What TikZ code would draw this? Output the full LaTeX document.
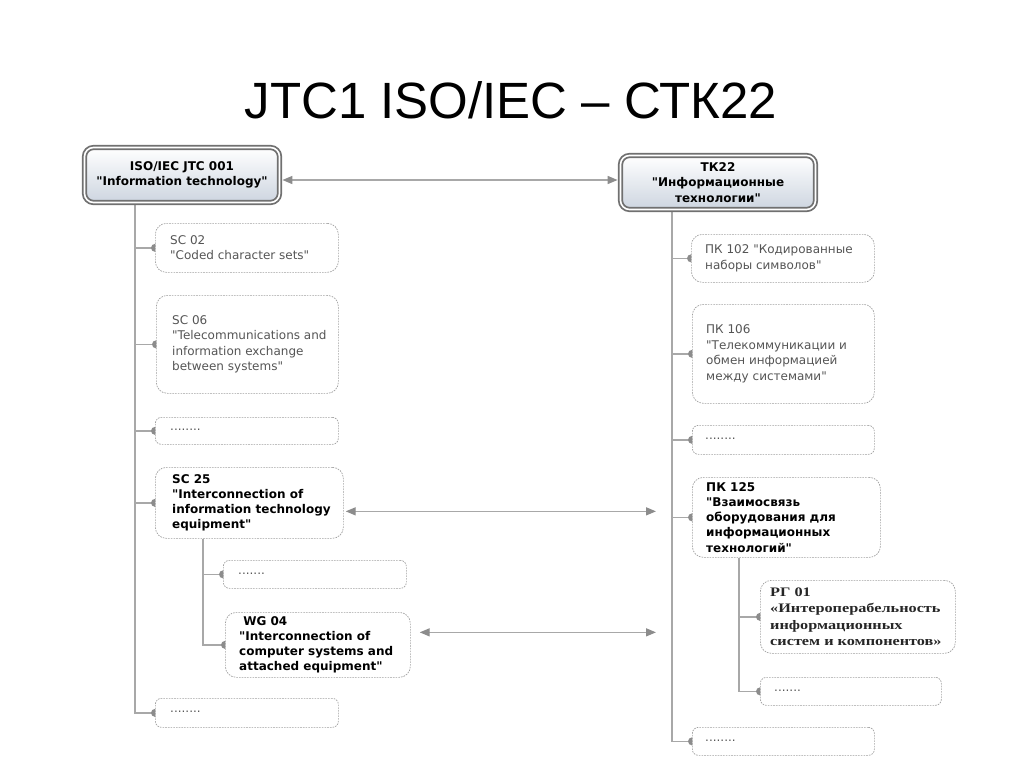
\documentclass[tikz,border=0pt]{standalone}
\usepackage{fontspec}
\usetikzlibrary{arrows.meta,backgrounds}
\newfontfamily\titlefont{Liberation Sans}
\newfontfamily\boxfont{DejaVu Sans}
\newfontfamily\rgfont[FakeStretch=1.25]{Liberation Serif}
\definecolor{lineg}{HTML}{A8A8A8}
\definecolor{tipg}{HTML}{8C8C8C}
\definecolor{textg}{HTML}{555555}
\definecolor{borderg}{HTML}{A0A0A0}
\definecolor{topg}{HTML}{707070}
\definecolor{shadeb}{HTML}{CDD5E0}
\begin{document}
\begin{tikzpicture}[x=1pt,y=-1pt,
 topbox/.style={draw=topg, line width=1.8pt, double=white, double distance=1.6pt, rounded corners=9pt, top color=white, bottom color=shadeb, minimum width=195pt, minimum height=55pt, align=center, font=\boxfont\bfseries\fontsize{12}{15.5}\selectfont, text=black, inner sep=0pt},
 sub/.style={draw=borderg, line width=0.7pt, dash pattern=on 1.6pt off 1.1pt, rounded corners=11pt, fill=white, anchor=north west, inner sep=0pt},
 small/.style={rounded corners=6pt},
 lbl/.style={anchor=west, align=left, inner sep=0pt, font=\boxfont\fontsize{12}{15.5}\selectfont, text=textg},
 boldlbl/.style={lbl, font=\boxfont\bfseries\fontsize{12}{15.2}\selectfont, text=black},
 conn/.style={draw=lineg, line width=1.3pt},
 enddot/.style={fill=tipg},
 biarrow/.style={draw=lineg, line width=1.4pt, {Triangle[length=10pt,width=8pt,color=tipg]}-{Triangle[length=10pt,width=8pt,color=tipg]}}
]
\useasboundingbox (0,0) rectangle (1024,768);

\node[font=\titlefont\fontsize{51}{60}\selectfont, anchor=base] (title) at (511,118) {JTC1 ISO/IEC – СТК22};

% top boxes
\node[topbox] (jtc) at (182,175) {ISO/IEC JTC 001\\"Information technology"};
\node[topbox, minimum height=54pt] (tk) at (718,182.5) {ТК22\\"Информационные\\технологии"};

% left column
\coordinate (tL) at (135,0);
\coordinate (sL) at (203,0);
\node[sub, minimum width=183pt, minimum height=49pt] (sc02) at (155,223) {};
\node[lbl] (sc02t) at ([xshift=15pt]sc02.west) {SC 02\\"Coded character sets"};
\node[sub, minimum width=182pt, minimum height=98pt] (sc06) at (156,295) {};
\node[lbl] (sc06t) at ([xshift=16pt]sc06.west) {SC 06\\"Telecommunications and\\information exchange\\between systems"};
\node[sub, small, minimum width=183pt, minimum height=27pt] (ld1) at (155,417) {};
\node[lbl] (ld1t) at ([xshift=15pt,yshift=1pt]ld1.west) {........};
\node[sub, minimum width=188pt, minimum height=71pt] (sc25) at (155,467) {};
\node[boldlbl] (sc25t) at ([xshift=17pt]sc25.west) {SC 25\\"Interconnection of\\information technology\\equipment"};
\node[sub, small, minimum width=183pt, minimum height=28pt] (ld2) at (223,560) {};
\node[lbl] (ld2t) at ([xshift=15pt,yshift=1pt]ld2.west) {.......};
\node[sub, minimum width=185pt, minimum height=65pt] (wg04) at (225,612) {};
\node[boldlbl] (wg04t) at ([xshift=14pt]wg04.west) {\ WG 04\\"Interconnection of\\computer systems and\\attached equipment"};
\node[sub, small, minimum width=183pt, minimum height=29pt] (ld3) at (155,698) {};
\node[lbl] (ld3t) at ([xshift=15pt,yshift=1pt]ld3.west) {........};

% right column
\coordinate (tR) at (672,0);
\coordinate (sR) at (739,0);
\node[sub, minimum width=183pt, minimum height=48pt] (pk102) at (691,234) {};
\node[lbl] (pk102t) at ([xshift=14pt]pk102.west) {ПК 102 "Кодированные\\наборы символов"};
\node[sub, minimum width=182pt, minimum height=99pt] (pk106) at (692,304) {};
\node[lbl] (pk106t) at ([xshift=14pt]pk106.west) {ПК 106\\"Телекоммуникации и\\обмен информацией\\между системами"};
\node[sub, small, minimum width=182pt, minimum height=29pt] (rd1) at (692,425) {};
\node[lbl] (rd1t) at ([xshift=13pt,yshift=1pt]rd1.west) {........};
\node[sub, minimum width=188pt, minimum height=80pt] (pk125) at (692,477) {};
\node[boldlbl] (pk125t) at ([xshift=14pt]pk125.west) {ПК 125\\"Взаимосвязь\\оборудования для\\информационных\\технологий"};
\node[sub, minimum width=195pt, minimum height=73pt] (rg01) at (760,580) {};
\node[lbl, font=\rgfont\bfseries\fontsize{13}{16.4}\selectfont, text=black!85] (rg01t) at ([xshift=10pt]rg01.west) {РГ 01\\«Интероперабельность\\информационных\\систем и компонентов»};
\node[sub, small, minimum width=181pt, minimum height=28pt] (rd2) at (760,677) {};
\node[lbl] (rd2t) at ([xshift=14pt,yshift=1pt]rd2.west) {.......};
\node[sub, small, minimum width=182pt, minimum height=28pt] (rd3) at (692,727) {};
\node[lbl] (rd3t) at ([xshift=13pt,yshift=1pt]rd3.west) {........};

\begin{scope}[on background layer]
 % left trunk
 \draw[conn] (jtc.south -| tL) |- (ld3.west);
 \foreach \b in {sc02,sc06,ld1,sc25,ld3} {
   \draw[conn] (tL |- \b.west) -- (\b.west);
   \fill[enddot] (\b.west) circle (4);
 }
 \draw[conn] (sc25.south -| sL) |- (wg04.west);
 \foreach \b in {ld2,wg04} {
   \draw[conn] (sL |- \b.west) -- (\b.west);
   \fill[enddot] (\b.west) circle (4);
 }
 % right trunk
 \draw[conn] (tk.south -| tR) |- (rd3.west);
 \foreach \b in {pk102,pk106,rd1,pk125,rd3} {
   \draw[conn] (tR |- \b.west) -- (\b.west);
   \fill[enddot] (\b.west) circle (4);
 }
 \draw[conn] (pk125.south -| sR) |- (rd2.west);
 \foreach \b in {rg01,rd2} {
   \draw[conn] (sR |- \b.west) -- (\b.west);
   \fill[enddot] (\b.west) circle (4);
 }
\end{scope}

% correspondence arrows
\draw[biarrow] ([xshift=2pt,yshift=-5pt]jtc.east) -- ([xshift=-2pt,yshift=2.5pt]tk.west);
\draw[biarrow] ([xshift=2pt,yshift=-8.5pt]sc25.east) -- ([xshift=-36pt,yshift=6pt]pk125.west);
\draw[biarrow] ([xshift=9pt,yshift=12.5pt]wg04.east) -- ([xshift=-104pt,yshift=-15.5pt]rg01.west);
\end{tikzpicture}
\end{document}
